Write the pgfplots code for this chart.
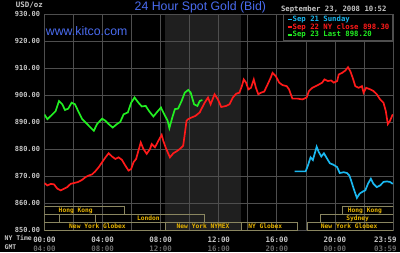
\documentclass[border=0pt]{standalone}
\usepackage{pgfplots}
\pgfplotsset{compat=1.18}
\usepackage{fontspec}
\setmainfont{Liberation Sans}
\newfontfamily\pix{DejaVu Sans Mono}
\definecolor{gridc}{HTML}{4E4E4E}
\definecolor{shadec}{HTML}{1F1F1F}
\definecolor{boxc}{HTML}{8A8660}
\definecolor{sesst}{HTML}{E8B400}
\definecolor{lbl}{HTML}{C8C8C8}
\definecolor{lbldk}{HTML}{6A6A6A}
\definecolor{titleb}{HTML}{4A6CF0}
\definecolor{sred}{HTML}{FF1A1A}
\definecolor{sgreen}{HTML}{22F022}
\definecolor{scyan}{HTML}{1AB8F0}
\begin{document}
\pagecolor{black}
\begin{tikzpicture}
\begin{axis}[
  set layers=standard,
  at={(42pt,22pt)}, anchor=south west,
  scale only axis, width=351pt, height=218pt,
  xmin=0, xmax=24, ymin=850, ymax=930,
  axis line style={draw=gridc, line width=0.8pt},
  xtick={0,4,8,12,16,20},
  minor xtick={2,6,10,14,18,22},
  xticklabels={
    {\textcolor{lbl}{00:00}\\\textcolor{lbldk}{04:00}},
    {\textcolor{lbl}{04:00}\\\textcolor{lbldk}{08:00}},
    {\textcolor{lbl}{08:00}\\\textcolor{lbldk}{12:00}},
    {\textcolor{lbl}{12:00}\\\textcolor{lbldk}{16:00}},
    {\textcolor{lbl}{16:00}\\\textcolor{lbldk}{20:00}},
    {\textcolor{lbl}{20:00}\\\textcolor{lbldk}{00:00}}},
  extra x ticks={23.47},
  extra x tick labels={{\textcolor{lbl}{23:59}\\\textcolor{lbldk}{03:59}}},
  extra x tick style={grid=none},
  ytick={850,860,...,930},
  yticklabels={850.00,860.00,870.00,880.00,890.00,900.00,910.00,920.00,930.00},
  grid=both,
  major grid style={draw=gridc, line width=0.8pt},
  minor grid style={draw=gridc, line width=0.8pt},
  major tick length=0pt, minor tick length=0pt,
  xticklabel style={font=\pix\bfseries\fontsize{7.5}{9.5}\selectfont, align=center, inner sep=0pt, yshift=-6.3pt},
  yticklabel style={font=\pix\bfseries\fontsize{7}{8}\selectfont, text=lbl, inner sep=0pt, xshift=-4.3pt},
  legend style={at={(1,1)}, anchor=north east, draw=gridc, line width=0.8pt, fill=black,
    font=\pix\bfseries\fontsize{7.35}{7.7}\selectfont, inner xsep=3pt, inner ysep=1.5pt,
    nodes={inner sep=0.3pt},
    /tikz/every even column/.append style={column sep=1.5pt}},
  legend image code/.code={\draw[#1, line width=1.6pt] (0pt,0pt) -- (4pt,0pt);},
  legend cell align=left,
]
\addplot[fill=shadec, draw=none, on layer=axis background, forget plot] coordinates {
(8.3,850) (13.55,850) (13.55,930) (8.3,930)} -- cycle;

\addplot[scyan, line width=1.7pt] coordinates {
(17.23,871.8) (17.98,871.8) (18.14,874.0) (18.32,877.0) (18.48,876.0) (18.74,880.9) (18.89,878.9) (19.06,877.3) (19.24,878.5) (19.47,876.4) (19.65,874.8) (19.88,874.3) (20.15,873.4) (20.33,871.2) (20.6,871.5) (20.83,871.2) (20.99,870.3) (21.11,868.5) (21.29,865.4) (21.51,862.0) (21.7,863.6) (21.93,864.4) (22.09,864.8) (22.27,867.2) (22.47,869.1) (22.65,867.2) (22.88,866.0) (23.11,866.6) (23.34,867.9) (23.57,868.1) (23.79,867.9) (23.98,867.2)
};
\addlegendentry{\textcolor{scyan}{Sep 21 Sunday}}

\addplot[sred, line width=1.7pt] coordinates {
(0,867.5) (0.2,866.6) (0.43,867.2) (0.66,867.0) (0.89,865.4) (1.12,864.8) (1.35,865.4) (1.57,866.0) (1.8,867.2) (2.03,867.5) (2.32,867.9) (2.6,868.7) (2.83,869.7) (3.06,870.3) (3.28,870.7) (3.51,871.9) (3.74,873.4) (3.97,875.2) (4.2,877.0) (4.42,878.5) (4.65,877.3) (4.88,876.4) (5.1,877.0) (5.33,876.1) (5.56,874.0) (5.79,872.1) (5.97,872.7) (6.13,875.2) (6.31,876.4) (6.47,879.5) (6.63,882.5) (6.81,880.1) (7.04,878.3) (7.27,880.1) (7.38,881.9) (7.61,880.7) (7.84,883.1) (8.07,885.3) (8.18,883.1) (8.34,880.7) (8.53,878.3) (8.64,877.0) (8.87,878.5) (9.09,879.2) (9.32,880.1) (9.55,881.3) (9.66,885.6) (9.78,890.5) (9.89,891.1) (10.12,891.7) (10.39,892.3) (10.69,893.6) (10.8,894.8) (11.03,897.2) (11.26,899.1) (11.44,896.6) (11.71,900.3) (11.94,898.4) (12.17,895.6) (12.51,896.0) (12.74,896.6) (12.97,899.1) (13.2,900.5) (13.42,900.9) (13.59,903.3) (13.72,905.8) (13.88,904.6) (14.04,902.1) (14.22,902.7) (14.41,905.8) (14.56,902.7) (14.72,900.3) (14.91,900.9) (15.13,901.3) (15.36,903.9) (15.59,906.6) (15.7,908.2) (15.93,907.0) (16.16,904.6) (16.39,903.7) (16.68,903.3) (16.84,902.1) (16.96,900.3) (17.07,898.7) (17.41,898.7) (17.76,898.4) (18.05,899.1) (18.21,901.5) (18.44,902.7) (18.67,903.3) (18.89,903.9) (19.12,904.6) (19.28,905.8) (19.51,905.2) (19.74,905.4) (19.92,904.6) (20.15,905.2) (20.26,907.6) (20.49,908.2) (20.72,909.1) (20.9,910.3) (21.06,908.8) (21.24,906.1) (21.4,903.3) (21.63,902.7) (21.86,903.3) (21.97,900.9) (22.15,902.7) (22.43,902.1) (22.65,901.5) (22.88,900.3) (23.11,898.4) (23.34,897.2) (23.5,894.1) (23.64,889.3) (23.79,890.5) (23.98,892.9)
};
\addlegendentry{\textcolor{sred}{Sep 22 NY close 898.30}\hspace{8pt}}

\addplot[sgreen, line width=1.7pt] coordinates {
(0,892.8) (0.2,891.1) (0.55,892.9) (0.77,894.1) (1.0,897.8) (1.23,896.6) (1.41,894.5) (1.64,895.0) (1.87,897.2) (2.1,896.6) (2.32,894.1) (2.6,891.1) (2.94,889.3) (3.17,888.0) (3.4,886.8) (3.62,889.3) (3.97,891.3) (4.2,890.5) (4.42,889.3) (4.7,888.0) (4.99,889.3) (5.22,890.1) (5.45,892.9) (5.74,893.6) (5.97,897.2) (6.2,899.1) (6.47,897.2) (6.7,895.8) (6.97,896.0) (7.2,894.1) (7.5,892.1) (7.73,893.6) (8.02,895.4) (8.25,892.9) (8.48,890.5) (8.6,887.8) (8.8,891.7) (8.98,894.8) (9.2,895.0) (9.44,897.8) (9.66,900.9) (9.9,901.9) (10.07,900.9) (10.3,896.6) (10.53,896.0) (10.69,897.8) (10.87,898.2)
};
\addlegendentry{\textcolor{sgreen}{Sep 23 Last 898.20}}

% trading session bars
\begin{scope}[boxc, line width=0.8pt]
\draw (axis cs:0,855.9) rectangle (axis cs:5.5,858.8);
\draw (axis cs:20.5,855.9) rectangle (axis cs:24,858.8);
\draw (axis cs:0,852.9) rectangle (axis cs:1.0,855.9);
\draw (axis cs:3.5,852.9) rectangle (axis cs:11.0,855.9);
\draw (axis cs:19.0,852.9) rectangle (axis cs:24,855.9);
\draw (axis cs:0,850) rectangle (axis cs:8.3,852.9);
\draw (axis cs:8.3,850) rectangle (axis cs:13.55,852.9);
\draw (axis cs:13.55,850) rectangle (axis cs:17.4,852.9);
\draw (axis cs:18.1,850) rectangle (axis cs:24,852.9);
\end{scope}
\begin{scope}[every node/.style={text=sesst, font=\pix\bfseries\fontsize{6.3}{7}\selectfont, inner sep=0pt}]
\node at (axis cs:2.15,857.35) {Hong Kong};
\node at (axis cs:22.06,857.35) {Hong Kong};
\node at (axis cs:7.15,854.4) {London};
\node at (axis cs:21.56,854.4) {Sydney};
\node at (axis cs:3.65,851.45) {New York Globex};
\node at (axis cs:10.92,851.45) {New York NYMEX};
\node at (axis cs:15.2,851.45) {NY Globex};
\node at (axis cs:20.98,851.45) {New York Globex};
\end{scope}
\end{axis}
\node[anchor=base, font=\fontsize{12.4}{14}\selectfont, text=titleb, inner sep=0pt] at (199pt,243pt) {24 Hour Spot Gold (Bid)};
\node[anchor=base west, font=\fontsize{12.4}{14}\selectfont, text=titleb, inner sep=0pt] at (43.3pt,218pt) {www.kitco.com};
\node[anchor=base west, font=\pix\bfseries\fontsize{7.35}{8}\selectfont, text=lbl, inner sep=0pt] at (280pt,242.3pt) {September 23, 2008 10:52};
\node[anchor=base west, font=\pix\bfseries\fontsize{7.5}{8}\selectfont, text=lbl, inner sep=0pt] at (13pt,246.7pt) {USD/oz};
\node[anchor=base west, font=\pix\bfseries\fontsize{6.5}{8}\selectfont, text=lbl, inner sep=0pt] at (1.7pt,11.5pt) {NY Time};
\node[anchor=base west, font=\pix\bfseries\fontsize{6.5}{8}\selectfont, text=lbl, inner sep=0pt] at (1.7pt,2.5pt) {GMT};
\pgfresetboundingbox
\path[use as bounding box] (0pt,0pt) rectangle (400pt,254pt);
\end{tikzpicture}
\end{document}
